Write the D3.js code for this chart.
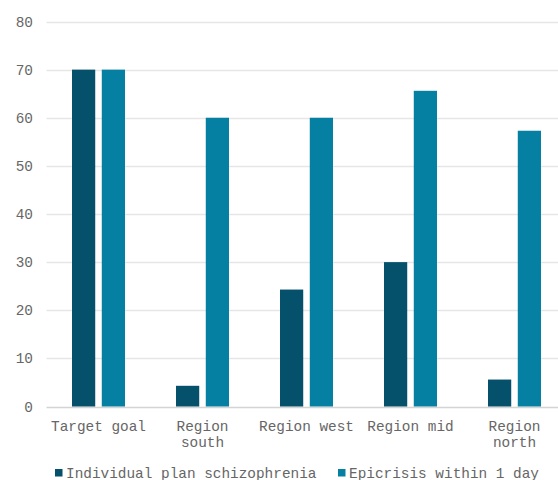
<!DOCTYPE html>
<html><head><meta charset="utf-8">
<script src="https://cdn.jsdelivr.net/npm/d3@7"></script>
<style>body{margin:0;background:#fff}svg{display:block}text{font-family:"Liberation Mono","DejaVu Sans Mono",monospace;fill:#666}</style>
</head><body><svg id="c" width="558" height="480"></svg>
<script>
const categories = [["Target goal"],["Region","south"],["Region west"],["Region mid"],["Region","north"]];
const seriesNames = ["Individual plan schizophrenia","Epicrisis within 1 day"];
const individualPlan = [70, 4.3, 24.3, 30, 5.6];
const epicrisis = [70, 60, 60, 65.6, 57.3];
const yTicks = [0,10,20,30,40,50,60,70,80];
const colors = ["#05506a","#0680a2"];

const svg = d3.select("#c");
const catKeys = categories.map(c=>c.join(" "));
const x = d3.scaleBand().domain(catKeys).range([46.5,566.5]).paddingInner(0).paddingOuter(0);
const y = d3.scaleLinear().domain([0,80]).range([406.5,21.5]);
const x1 = d3.scaleBand().domain([0,1]).range([0,53]).paddingInner(0.22).paddingOuter(0);

// gridlines
svg.append("g").selectAll("line").data(yTicks).join("line")
  .attr("x1",46.5).attr("x2",558).attr("y1",d=>Math.round(y(d))+0.5).attr("y2",d=>Math.round(y(d))+0.5)
  .attr("stroke",d=>d===0?"#d4d4d4":"#e6e6e6").attr("stroke-width",1.5);

// y labels
svg.append("g").selectAll("text").data(yTicks).join("text")
  .attr("x",33).attr("y",d=>y(d)).attr("dy","0.35em").attr("text-anchor","end")
  .style("font-size","14.4px").text(d=>d);

// bars
const series = [individualPlan, epicrisis];
series.forEach((vals,si)=>{
  svg.append("g").selectAll("rect").data(vals).join("rect")
    .attr("x",(d,i)=>x(catKeys[i]) + x.bandwidth()/2 - 26.5 + x1(si))
    .attr("width",x1.bandwidth())
    .attr("y",d=>y(d)).attr("height",d=>y(0)-y(d))
    .attr("fill",colors[si]);
});

// x labels
const xl = svg.append("g").selectAll("text").data(categories).join("text")
  .attr("text-anchor","middle").style("font-size","14.4px")
  .attr("transform",(d,i)=>`translate(${x(catKeys[i])+x.bandwidth()/2},431)`);
xl.selectAll("tspan").data(d=>d).join("tspan")
  .attr("x",0).attr("dy",(d,i)=>i===0?0:16).text(d=>d);

// legend
const legendX = [55, 338];
const lg = svg.append("g").selectAll("g").data(seriesNames).join("g")
  .attr("transform",(d,i)=>`translate(${legendX[i]},469)`);
lg.append("rect").attr("width",7.5).attr("height",7.5).attr("fill",(d,i)=>colors[i]);
lg.append("text").attr("x",11).attr("y",8.5).style("font-size","14.4px").text(d=>d);
</script></body></html>
